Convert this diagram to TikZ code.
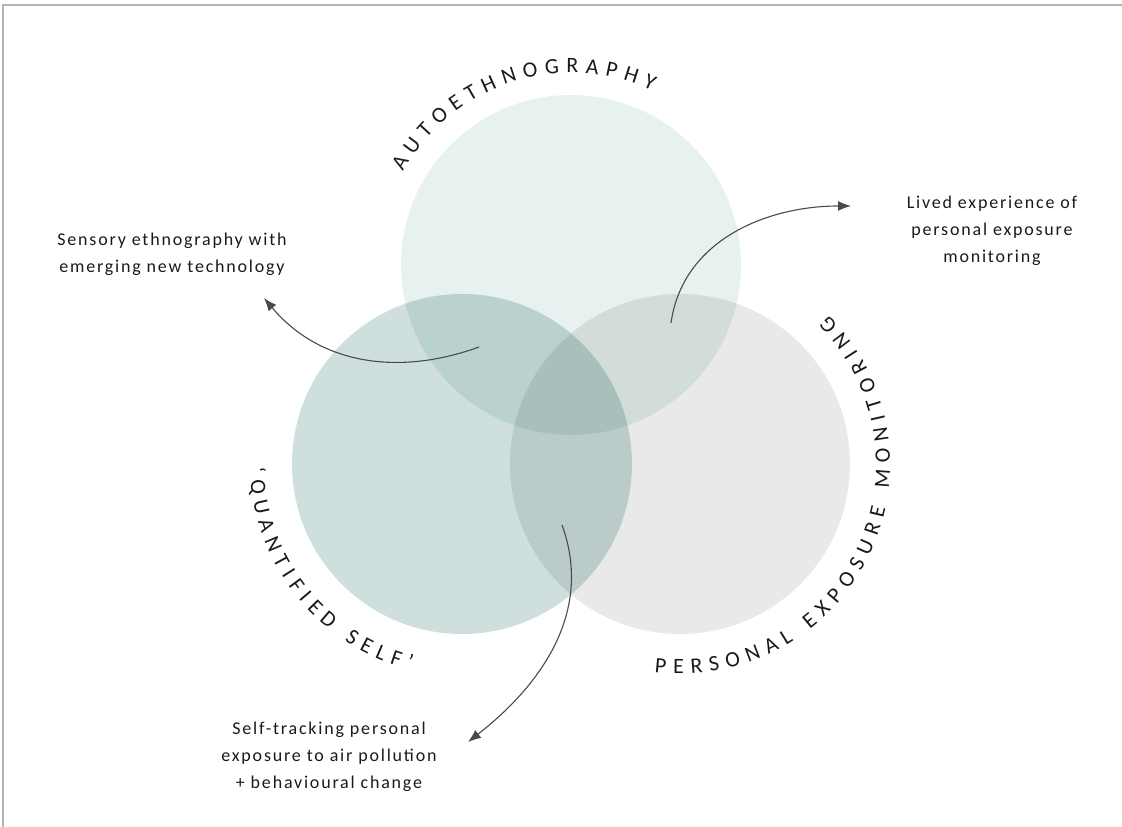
\documentclass[tikz,border=0pt]{standalone}
\usepackage{fontspec}
\setmainfont{Carlito}
\newfontfamily\labelfamily[LetterSpace=10]{Carlito}
\newfontfamily\capsfamily{Carlito}
\usepackage{xcolor}
\usetikzlibrary{arrows.meta, decorations.text}

\definecolor{autofill}{HTML}{E7F1EF}
\definecolor{selffill}{HTML}{CEDFDD}
\definecolor{pemfill}{HTML}{E8E9E8}
\definecolor{framegray}{HTML}{B4B4B4}
\definecolor{inkgray}{HTML}{1A1A1A}
\definecolor{arrowgray}{HTML}{4A4A4A}

\newcommand{\capsfont}{\capsfamily\fontsize{22}{26}\selectfont\color{inkgray}}

\tikzset{>=Latex}

\begin{document}
\begin{tikzpicture}[x=1pt, y=1pt,
    blob/.style={blend mode=multiply},
    note/.style={font=\labelfamily\fontsize{18}{27}\selectfont, align=center, text=inkgray},
    pointer/.style={->, >={Latex[length=13pt, width=10pt]}, draw=arrowgray, line width=1.1pt},
    ringtext/.style={decorate, decoration={text along path, text={|\capsfont|#1}, text align={fit to path}}}]

    \useasboundingbox (0,0) rectangle (1122,827);

    % Rahmen oben und links
    \draw[framegray, line width=1.5pt] (3,0) -- (3,822) -- (1122,822);

    % Kreismittelpunkte
    \coordinate (A) at (571,562);
    \coordinate (Q) at (462,363);
    \coordinate (P) at (680,363);

    % die drei Kreise
    \fill[autofill, blob] (A) circle (170);
    \fill[selffill, blob] (Q) circle (170);
    \fill[pemfill, blob] (P) circle (170);

    % Schrift entlang der Kreise
    \path[ringtext={AUTOETHNOGRAPHY}] ([shift={(151:192)}]A) arc[start angle=151, end angle=65, radius=192];
    \path[ringtext={‘QUANTIFIED SELF’}] ([shift={(181:212)}]Q) arc[start angle=181, end angle=256, radius=212];
    \path[ringtext={PERSONAL EXPOSURE MONITORING}] ([shift={(263:210)}]P) arc[start angle=263, end angle=405, radius=210];

    % Beschriftungen
    \node[note] (lived) at (992,596) {Lived experience of\\personal exposure\\monitoring};
    \node[note] (sensory) at (172,573) {Sensory ethnography with\\emerging new technology};
    \node[note] (tracking) at (329,70) {Self-tracking personal\\exposure to air pollution\\+ behavioural change};

    % Pfeile aus den Schnittflaechen
    \coordinate (lived from) at (671,504);
    \coordinate (lived to) at (851,621);
    \coordinate (sensory from) at (479,480);
    \coordinate (sensory to) at (264,529);
    \coordinate (tracking from) at (562,302);
    \coordinate (tracking to) at (468,85);

    \draw[pointer] (lived from) to[out=82, in=180] (lived to);
    \draw[pointer] (sensory from) to[out=200, in=-50] (sensory to);
    \draw[pointer] (tracking from) to[out=-70, in=38] (tracking to);

\end{tikzpicture}
\end{document}
